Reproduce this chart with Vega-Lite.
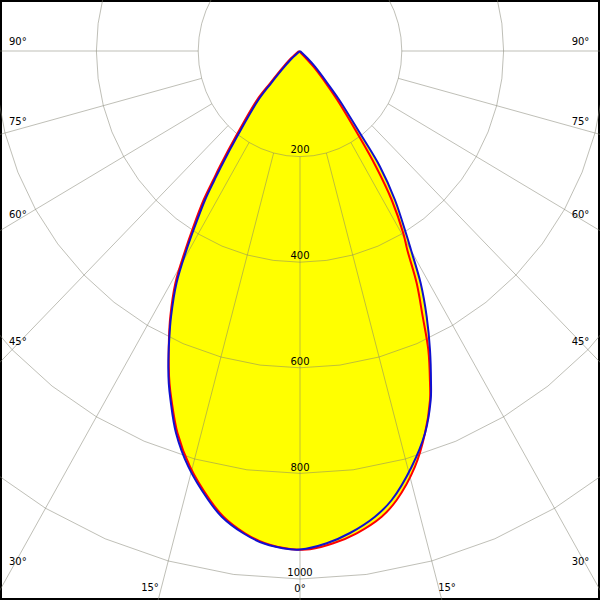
{
  "$schema": "https://vega.github.io/schema/vega-lite/v6.json",
  "width": 600,
  "height": 600,
  "padding": 0,
  "autosize": {"type": "none"},
  "background": "white",
  "config": {"view": {"stroke": "black", "strokeWidth": 4}, "font": "DejaVu Sans"},
  "datasets": {
    "fill": [
      {"y": 0, "l": -2, "r": 1},
      {"y": 13.8, "l": -17.7, "r": 14.7},
      {"y": 29.7, "l": -32.4, "r": 29.5},
      {"y": 61.2, "l": -58.9, "r": 54.0},
      {"y": 92.8, "l": -84.5, "r": 77.2},
      {"y": 157.0, "l": -123.8, "r": 117.9},
      {"y": 219.1, "l": -157.8, "r": 157.2},
      {"y": 244.3, "l": -170.5, "r": 169.0},
      {"y": 282.2, "l": -189.4, "r": 186.6},
      {"y": 339.0, "l": -211.8, "r": 205.9},
      {"y": 376.9, "l": -225.3, "r": 218.1},
      {"y": 439.7, "l": -244.8, "r": 237.1},
      {"y": 503.2, "l": -254.8, "r": 248.9},
      {"y": 543.6, "l": -257.4, "r": 253.3},
      {"y": 566.3, "l": -258.0, "r": 255.4},
      {"y": 597.9, "l": -258.7, "r": 256.5},
      {"y": 629.4, "l": -257.8, "r": 257.4},
      {"y": 661.0, "l": -254.4, "r": 256.8},
      {"y": 723.8, "l": -243.6, "r": 245.6},
      {"y": 787.3, "l": -219.4, "r": 225.9},
      {"y": 850.4, "l": -180.2, "r": 190.0},
      {"y": 882.0, "l": -153.8, "r": 160.5},
      {"y": 913.4, "l": -111.4, "r": 111.4},
      {"y": 932.4, "l": -72.1, "r": 65.4},
      {"y": 943.8, "l": -19.6, "r": 19.6},
      {"y": 945.0, "l": -1, "r": 2}
    ],
    "blue": [
      {"o": 1, "x": 0, "y": 0}, {"o": 2, "x": -15.7, "y": 13.8}, {"o": 3, "x": -30.5, "y": 29.7},
      {"o": 4, "x": -57.0, "y": 61.2}, {"o": 5, "x": -81.9, "y": 92.8}, {"o": 6, "x": -121.2, "y": 157.8},
      {"o": 7, "x": -155.2, "y": 219.1}, {"o": 8, "x": -168.0, "y": 244.3}, {"o": 9, "x": -186.6, "y": 282.2},
      {"o": 10, "x": -209.2, "y": 339.0}, {"o": 11, "x": -223.0, "y": 376.9}, {"o": 12, "x": -242.6, "y": 439.4},
      {"o": 13, "x": -253.4, "y": 503.2}, {"o": 14, "x": -256.8, "y": 543.6}, {"o": 15, "x": -258.7, "y": 597.9},
      {"o": 16, "x": -257.8, "y": 629.4}, {"o": 17, "x": -254.4, "y": 661.0}, {"o": 18, "x": -243.6, "y": 723.5},
      {"o": 19, "x": -219.4, "y": 787.3}, {"o": 20, "x": -180.2, "y": 850.4}, {"o": 21, "x": -153.8, "y": 882.0},
      {"o": 22, "x": -111.4, "y": 913.4}, {"o": 23, "x": -72.1, "y": 932.4}, {"o": 24, "x": -19.6, "y": 943.8},
      {"o": 25, "x": 0, "y": 944.3}, {"o": 26, "x": 52.5, "y": 932.4}, {"o": 27, "x": 98.2, "y": 912.9},
      {"o": 28, "x": 147.3, "y": 882.0}, {"o": 29, "x": 180.2, "y": 850.4}, {"o": 30, "x": 219.4, "y": 787.3},
      {"o": 31, "x": 245.6, "y": 724.1}, {"o": 32, "x": 256.8, "y": 661.0}, {"o": 33, "x": 257.4, "y": 629.4},
      {"o": 34, "x": 255.4, "y": 566.3}, {"o": 35, "x": 248.9, "y": 503.2}, {"o": 36, "x": 237.1, "y": 440.0},
      {"o": 37, "x": 218.1, "y": 376.9}, {"o": 38, "x": 208.2, "y": 345.3}, {"o": 39, "x": 186.6, "y": 282.2},
      {"o": 40, "x": 157.2, "y": 219.1}, {"o": 41, "x": 117.9, "y": 155.9}, {"o": 42, "x": 77.2, "y": 92.8},
      {"o": 43, "x": 54.0, "y": 61.2}, {"o": 44, "x": 29.5, "y": 29.7}, {"o": 45, "x": 14.7, "y": 13.8},
      {"o": 46, "x": 0, "y": 0}
    ],
    "red": [
      {"o": 1, "x": -2.0, "y": 0}, {"o": 2, "x": -17.7, "y": 13.8}, {"o": 3, "x": -32.4, "y": 29.7},
      {"o": 4, "x": -58.9, "y": 61.2}, {"o": 5, "x": -84.5, "y": 92.8}, {"o": 6, "x": -123.8, "y": 157.8},
      {"o": 7, "x": -157.8, "y": 219.1}, {"o": 8, "x": -170.5, "y": 244.3}, {"o": 9, "x": -189.4, "y": 282.2},
      {"o": 10, "x": -211.8, "y": 339.0}, {"o": 11, "x": -225.3, "y": 376.9}, {"o": 12, "x": -244.8, "y": 439.4},
      {"o": 13, "x": -254.8, "y": 503.2}, {"o": 14, "x": -257.4, "y": 543.6}, {"o": 15, "x": -257.8, "y": 597.9},
      {"o": 16, "x": -256.4, "y": 629.4}, {"o": 17, "x": -252.5, "y": 661.0}, {"o": 18, "x": -240.7, "y": 723.5},
      {"o": 19, "x": -216.1, "y": 787.3}, {"o": 20, "x": -176.8, "y": 850.4}, {"o": 21, "x": -150.3, "y": 882.0},
      {"o": 22, "x": -108.1, "y": 913.4}, {"o": 23, "x": -68.8, "y": 932.4}, {"o": 24, "x": -16.7, "y": 943.8},
      {"o": 25, "x": 2.0, "y": 944.7}, {"o": 26, "x": 19.6, "y": 943.8}, {"o": 27, "x": 65.4, "y": 932.4},
      {"o": 28, "x": 111.4, "y": 913.4}, {"o": 29, "x": 160.5, "y": 882.0}, {"o": 30, "x": 190.0, "y": 850.4},
      {"o": 31, "x": 225.9, "y": 787.3}, {"o": 32, "x": 245.6, "y": 724.1}, {"o": 33, "x": 255.4, "y": 661.0},
      {"o": 34, "x": 255.4, "y": 629.4}, {"o": 35, "x": 252.1, "y": 566.3}, {"o": 36, "x": 241.1, "y": 503.2},
      {"o": 37, "x": 229.3, "y": 440.0}, {"o": 38, "x": 210.8, "y": 376.9}, {"o": 39, "x": 202.9, "y": 345.3},
      {"o": 40, "x": 180.2, "y": 282.2}, {"o": 41, "x": 149.3, "y": 219.1}, {"o": 42, "x": 112.6, "y": 155.9},
      {"o": 43, "x": 73.3, "y": 92.8}, {"o": 44, "x": 51.1, "y": 61.2}, {"o": 45, "x": 26.5, "y": 29.7},
      {"o": 46, "x": 11.8, "y": 13.8}, {"o": 47, "x": -2.0, "y": 0}
    ],
    "circles": [
      {"c": 200, "a": -135, "x": -141.4, "y": -141.4}, {"c": 200, "a": -127.5, "x": -158.7, "y": -121.8},
      {"c": 200, "a": -120, "x": -173.2, "y": -100}, {"c": 200, "a": -112.5, "x": -184.8, "y": -76.5},
      {"c": 200, "a": -105, "x": -193.2, "y": -51.8}, {"c": 200, "a": -97.5, "x": -198.3, "y": -26.1},
      {"c": 200, "a": -90, "x": -200, "y": 0}, {"c": 200, "a": -82.5, "x": -198.3, "y": 26.1},
      {"c": 200, "a": -75, "x": -193.2, "y": 51.8}, {"c": 200, "a": -67.5, "x": -184.8, "y": 76.5},
      {"c": 200, "a": -60, "x": -173.2, "y": 100}, {"c": 200, "a": -52.5, "x": -158.7, "y": 121.8},
      {"c": 200, "a": -45, "x": -141.4, "y": 141.4}, {"c": 200, "a": -37.5, "x": -121.8, "y": 158.7},
      {"c": 200, "a": -30, "x": -100, "y": 173.2}, {"c": 200, "a": -22.5, "x": -76.5, "y": 184.8},
      {"c": 200, "a": -15, "x": -51.8, "y": 193.2}, {"c": 200, "a": -7.5, "x": -26.1, "y": 198.3},
      {"c": 200, "a": 0, "x": 0, "y": 200},
      {"c": 200, "a": 7.5, "x": 26.1, "y": 198.3}, {"c": 200, "a": 15, "x": 51.8, "y": 193.2},
      {"c": 200, "a": 22.5, "x": 76.5, "y": 184.8}, {"c": 200, "a": 30, "x": 100, "y": 173.2},
      {"c": 200, "a": 37.5, "x": 121.8, "y": 158.7}, {"c": 200, "a": 45, "x": 141.4, "y": 141.4},
      {"c": 200, "a": 52.5, "x": 158.7, "y": 121.8}, {"c": 200, "a": 60, "x": 173.2, "y": 100},
      {"c": 200, "a": 67.5, "x": 184.8, "y": 76.5}, {"c": 200, "a": 75, "x": 193.2, "y": 51.8},
      {"c": 200, "a": 82.5, "x": 198.3, "y": 26.1}, {"c": 200, "a": 90, "x": 200, "y": 0},
      {"c": 200, "a": 97.5, "x": 198.3, "y": -26.1}, {"c": 200, "a": 105, "x": 193.2, "y": -51.8},
      {"c": 200, "a": 112.5, "x": 184.8, "y": -76.5}, {"c": 200, "a": 120, "x": 173.2, "y": -100},
      {"c": 200, "a": 127.5, "x": 158.7, "y": -121.8}, {"c": 200, "a": 135, "x": 141.4, "y": -141.4},

      {"c": 400, "a": -112.5, "x": -369.6, "y": -153.1}, {"c": 400, "a": -105, "x": -386.4, "y": -103.5},
      {"c": 400, "a": -97.5, "x": -396.6, "y": -52.2}, {"c": 400, "a": -90, "x": -400, "y": 0},
      {"c": 400, "a": -82.5, "x": -396.6, "y": 52.2}, {"c": 400, "a": -75, "x": -386.4, "y": 103.5},
      {"c": 400, "a": -67.5, "x": -369.6, "y": 153.1}, {"c": 400, "a": -60, "x": -346.4, "y": 200},
      {"c": 400, "a": -52.5, "x": -317.3, "y": 243.5}, {"c": 400, "a": -45, "x": -282.8, "y": 282.8},
      {"c": 400, "a": -37.5, "x": -243.5, "y": 317.3}, {"c": 400, "a": -30, "x": -200, "y": 346.4},
      {"c": 400, "a": -22.5, "x": -153.1, "y": 369.6}, {"c": 400, "a": -15, "x": -103.5, "y": 386.4},
      {"c": 400, "a": -7.5, "x": -52.2, "y": 396.6}, {"c": 400, "a": 0, "x": 0, "y": 400},
      {"c": 400, "a": 7.5, "x": 52.2, "y": 396.6}, {"c": 400, "a": 15, "x": 103.5, "y": 386.4},
      {"c": 400, "a": 22.5, "x": 153.1, "y": 369.6}, {"c": 400, "a": 30, "x": 200, "y": 346.4},
      {"c": 400, "a": 37.5, "x": 243.5, "y": 317.3}, {"c": 400, "a": 45, "x": 282.8, "y": 282.8},
      {"c": 400, "a": 52.5, "x": 317.3, "y": 243.5}, {"c": 400, "a": 60, "x": 346.4, "y": 200},
      {"c": 400, "a": 67.5, "x": 369.6, "y": 153.1}, {"c": 400, "a": 75, "x": 386.4, "y": 103.5},
      {"c": 400, "a": 82.5, "x": 396.6, "y": 52.2}, {"c": 400, "a": 90, "x": 400, "y": 0},
      {"c": 400, "a": 97.5, "x": 396.6, "y": -52.2}, {"c": 400, "a": 105, "x": 386.4, "y": -103.5},
      {"c": 400, "a": 112.5, "x": 369.6, "y": -153.1},

      {"c": 600, "a": -105, "x": -579.6, "y": -155.3}, {"c": 600, "a": -97.5, "x": -594.9, "y": -78.3},
      {"c": 600, "a": -90, "x": -600, "y": 0}, {"c": 600, "a": -82.5, "x": -594.9, "y": 78.3},
      {"c": 600, "a": -75, "x": -579.6, "y": 155.3}, {"c": 600, "a": -67.5, "x": -554.3, "y": 229.6},
      {"c": 600, "a": -60, "x": -519.6, "y": 300}, {"c": 600, "a": -52.5, "x": -476, "y": 365.3},
      {"c": 600, "a": -45, "x": -424.3, "y": 424.3}, {"c": 600, "a": -37.5, "x": -365.3, "y": 476},
      {"c": 600, "a": -30, "x": -300, "y": 519.6}, {"c": 600, "a": -22.5, "x": -229.6, "y": 554.3},
      {"c": 600, "a": -15, "x": -155.3, "y": 579.6}, {"c": 600, "a": -7.5, "x": -78.3, "y": 594.9},
      {"c": 600, "a": 0, "x": 0, "y": 600},
      {"c": 600, "a": 7.5, "x": 78.3, "y": 594.9}, {"c": 600, "a": 15, "x": 155.3, "y": 579.6},
      {"c": 600, "a": 22.5, "x": 229.6, "y": 554.3}, {"c": 600, "a": 30, "x": 300, "y": 519.6},
      {"c": 600, "a": 37.5, "x": 365.3, "y": 476}, {"c": 600, "a": 45, "x": 424.3, "y": 424.3},
      {"c": 600, "a": 52.5, "x": 476, "y": 365.3}, {"c": 600, "a": 60, "x": 519.6, "y": 300},
      {"c": 600, "a": 67.5, "x": 554.3, "y": 229.6}, {"c": 600, "a": 75, "x": 579.6, "y": 155.3},
      {"c": 600, "a": 82.5, "x": 594.9, "y": 78.3}, {"c": 600, "a": 90, "x": 600, "y": 0},
      {"c": 600, "a": 97.5, "x": 594.9, "y": -78.3}, {"c": 600, "a": 105, "x": 579.6, "y": -155.3},

      {"c": 800, "a": -60, "x": -692.8, "y": 400}, {"c": 800, "a": -52.5, "x": -634.7, "y": 487},
      {"c": 800, "a": -45, "x": -565.7, "y": 565.7}, {"c": 800, "a": -37.5, "x": -487, "y": 634.7},
      {"c": 800, "a": -30, "x": -400, "y": 692.8}, {"c": 800, "a": -22.5, "x": -306.1, "y": 739.1},
      {"c": 800, "a": -15, "x": -207.1, "y": 772.7}, {"c": 800, "a": -7.5, "x": -104.4, "y": 793.2},
      {"c": 800, "a": 0, "x": 0, "y": 800},
      {"c": 800, "a": 7.5, "x": 104.4, "y": 793.2}, {"c": 800, "a": 15, "x": 207.1, "y": 772.7},
      {"c": 800, "a": 22.5, "x": 306.1, "y": 739.1}, {"c": 800, "a": 30, "x": 400, "y": 692.8},
      {"c": 800, "a": 37.5, "x": 487, "y": 634.7}, {"c": 800, "a": 45, "x": 565.7, "y": 565.7},
      {"c": 800, "a": 52.5, "x": 634.7, "y": 487}, {"c": 800, "a": 60, "x": 692.8, "y": 400},

      {"c": 1000, "a": -45, "x": -707.1, "y": 707.1}, {"c": 1000, "a": -37.5, "x": -608.8, "y": 793.4},
      {"c": 1000, "a": -30, "x": -500, "y": 866}, {"c": 1000, "a": -22.5, "x": -382.7, "y": 923.9},
      {"c": 1000, "a": -15, "x": -258.8, "y": 965.9}, {"c": 1000, "a": -7.5, "x": -130.5, "y": 991.4},
      {"c": 1000, "a": 0, "x": 0, "y": 1000},
      {"c": 1000, "a": 7.5, "x": 130.5, "y": 991.4}, {"c": 1000, "a": 15, "x": 258.8, "y": 965.9},
      {"c": 1000, "a": 22.5, "x": 382.7, "y": 923.9}, {"c": 1000, "a": 30, "x": 500, "y": 866},
      {"c": 1000, "a": 37.5, "x": 608.8, "y": 793.4}, {"c": 1000, "a": 45, "x": 707.1, "y": 707.1}
    ],
    "spokes": [
      {"a": -90, "x1": -200, "y1": 0, "x2": -1300, "y2": 0},
      {"a": -75, "x1": -193.2, "y1": 51.8, "x2": -1255.7, "y2": 336.5},
      {"a": -60, "x1": -173.2, "y1": 100, "x2": -1125.8, "y2": 650},
      {"a": -45, "x1": -141.4, "y1": 141.4, "x2": -919.2, "y2": 919.2},
      {"a": -30, "x1": -100, "y1": 173.2, "x2": -650, "y2": 1125.8},
      {"a": -15, "x1": -51.8, "y1": 193.2, "x2": -336.5, "y2": 1255.7},
      {"a": 0, "x1": 0, "y1": 200, "x2": 0, "y2": 1300},
      {"a": 15, "x1": 51.8, "y1": 193.2, "x2": 336.5, "y2": 1255.7},
      {"a": 30, "x1": 100, "y1": 173.2, "x2": 650, "y2": 1125.8},
      {"a": 45, "x1": 141.4, "y1": 141.4, "x2": 919.2, "y2": 919.2},
      {"a": 60, "x1": 173.2, "y1": 100, "x2": 1125.8, "y2": 650},
      {"a": 75, "x1": 193.2, "y1": 51.8, "x2": 1255.7, "y2": 336.5},
      {"a": 90, "x1": 200, "y1": 0, "x2": 1300, "y2": 0}
    ],
    "labels": [
      {"t": "200", "side": "center", "x": 0, "y": 187.5},
      {"t": "400", "side": "center", "x": 0, "y": 388.3},
      {"t": "600", "side": "center", "x": 0, "y": 589.0},
      {"t": "800", "side": "center", "x": 0, "y": 789.8},
      {"t": "1000", "side": "center", "x": 0, "y": 989.6},
      {"t": "0°", "side": "center", "x": 0, "y": 1019.9},
      {"t": "15°", "side": "center", "x": -294.7, "y": 1017.0},
      {"t": "15°", "side": "center", "x": 288.8, "y": 1017.0},
      {"t": "90°", "side": "left", "x": -571.7, "y": -17.0},
      {"t": "75°", "side": "left", "x": -571.7, "y": 134.5},
      {"t": "60°", "side": "left", "x": -571.7, "y": 310.6},
      {"t": "45°", "side": "left", "x": -571.7, "y": 551.1},
      {"t": "30°", "side": "left", "x": -571.7, "y": 967.8},
      {"t": "90°", "side": "right", "x": 568.5, "y": -17.0},
      {"t": "75°", "side": "right", "x": 568.5, "y": 134.5},
      {"t": "60°", "side": "right", "x": 568.5, "y": 310.6},
      {"t": "45°", "side": "right", "x": 568.5, "y": 551.1},
      {"t": "30°", "side": "right", "x": 568.5, "y": 967.8}
    ]
  },
  "encoding": {
    "x": {"type": "quantitative", "scale": {"domain": [-589.4, 589.4], "nice": false, "zero": false}, "axis": null},
    "y": {"type": "quantitative", "scale": {"domain": [-96.6, 1039.8], "reverse": true, "nice": false, "zero": false}, "axis": null}
  },
  "layer": [
    {
      "data": {"name": "fill"},
      "mark": {"type": "area", "orient": "horizontal", "color": "#ffff00", "interpolate": "catmull-rom", "clip": true},
      "encoding": {
        "y": {"field": "y", "type": "quantitative"},
        "x": {"field": "l", "type": "quantitative"},
        "x2": {"field": "r"}
      }
    },
    {
      "data": {"name": "circles"},
      "mark": {"type": "line", "color": "#808070", "opacity": 0.5, "strokeWidth": 1, "clip": true},
      "encoding": {
        "x": {"field": "x", "type": "quantitative"},
        "y": {"field": "y", "type": "quantitative"},
        "detail": {"field": "c", "type": "nominal"},
        "order": {"field": "a", "type": "quantitative"}
      }
    },
    {
      "data": {"name": "spokes"},
      "mark": {"type": "rule", "color": "#808070", "opacity": 0.5, "strokeWidth": 1, "clip": true},
      "encoding": {
        "x": {"field": "x1", "type": "quantitative"},
        "y": {"field": "y1", "type": "quantitative"},
        "x2": {"field": "x2"},
        "y2": {"field": "y2"}
      }
    },
    {
      "data": {"name": "red"},
      "mark": {"type": "line", "color": "#ff0000", "strokeWidth": 2, "interpolate": "catmull-rom", "clip": true},
      "encoding": {
        "x": {"field": "x", "type": "quantitative"},
        "y": {"field": "y", "type": "quantitative"},
        "order": {"field": "o", "type": "quantitative"}
      }
    },
    {
      "data": {"name": "blue"},
      "mark": {"type": "line", "color": "#1010d0", "strokeWidth": 2, "interpolate": "catmull-rom", "clip": true},
      "encoding": {
        "x": {"field": "x", "type": "quantitative"},
        "y": {"field": "y", "type": "quantitative"},
        "order": {"field": "o", "type": "quantitative"}
      }
    },
    {
      "data": {"name": "labels"},
      "transform": [{"filter": "datum.side === 'center'"}],
      "mark": {"type": "text", "align": "center", "baseline": "middle", "fontSize": 10, "color": "black", "font": "DejaVu Sans"},
      "encoding": {
        "x": {"field": "x", "type": "quantitative"},
        "y": {"field": "y", "type": "quantitative"},
        "text": {"field": "t"}
      }
    },
    {
      "data": {"name": "labels"},
      "transform": [{"filter": "datum.side === 'left'"}],
      "mark": {"type": "text", "align": "left", "baseline": "middle", "fontSize": 10, "color": "black", "font": "DejaVu Sans"},
      "encoding": {
        "x": {"field": "x", "type": "quantitative"},
        "y": {"field": "y", "type": "quantitative"},
        "text": {"field": "t"}
      }
    },
    {
      "data": {"name": "labels"},
      "transform": [{"filter": "datum.side === 'right'"}],
      "mark": {"type": "text", "align": "right", "baseline": "middle", "fontSize": 10, "color": "black", "font": "DejaVu Sans"},
      "encoding": {
        "x": {"field": "x", "type": "quantitative"},
        "y": {"field": "y", "type": "quantitative"},
        "text": {"field": "t"}
      }
    }
  ]
}
